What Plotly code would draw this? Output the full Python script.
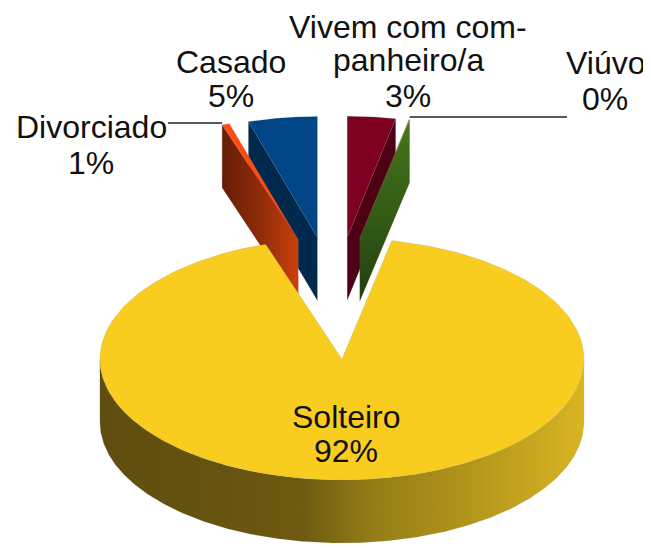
import numpy as np
import plotly.graph_objects as go

# Data, in clockwise drawing order starting at twelve o'clock
categories = ["Vivem com companheiro/a", "Viúvo", "Solteiro", "Divorciado", "Casado"]
values = [3.2, 0.1, 91.6, 0.5, 4.6]

# Labels as shown (line by line)
label_lines = {
    "Vivem com companheiro/a": ["Vivem com com-", "panheiro/a", "3%"],
    "Viúvo": ["Viúvo", "0%"],
    "Solteiro": ["Solteiro", "92%"],
    "Divorciado": ["Divorciado", "1%"],
    "Casado": ["Casado", "5%"],
}
label_pos = {
    "Vivem com companheiro/a": (408, [27, 60, 96]),
    "Viúvo": (605, [63, 99]),
    "Solteiro": (346, [417, 451]),
    "Divorciado": (91, [127, 163]),
    "Casado": (231, [62, 96]),
}

# Styles
top_color = {"Vivem com companheiro/a": "#7e0021", "Viúvo": "#4f7f1c", "Solteiro": "#f8cd20",
             "Divorciado": "#ff4a10", "Casado": "#004586"}
CX, CY, RX, RY, DEPTH, EXPLODE = 335, 298, 242, 121, 63, 0.505
FONT = "Liberation Sans"
FS = 32
PAGE_MARGIN = 8  # the page body offsets the figure by this much


def pt(cx, cy, th):
    return cx + RX * np.sin(th), cy - RY * np.cos(th)


# slice angles
fr = np.array(values) / sum(values)
edges = np.concatenate([[0], np.cumsum(fr)]) * 2 * np.pi
slices = {}
for i, c in enumerate(categories):
    a, b = edges[i], edges[i + 1]
    m = (a + b) / 2
    cx = CX + EXPLODE * RX * np.sin(m)
    cy = CY - EXPLODE * RY * np.cos(m)
    slices[c] = dict(a=a, b=b, cx=cx, cy=cy)

fig = go.Figure()


def add_poly(x, y, color=None, grad=None, line="rgba(120,120,120,0.14)"):
    kw = dict(fillcolor=color) if grad is None else dict(fillgradient=grad)
    fig.add_trace(go.Scatter(x=list(x), y=list(y), mode="lines", fill="toself",
                             line=dict(color=line, width=1), hoverinfo="skip",
                             showlegend=False, **kw))


def top_face(c):
    s = slices[c]
    th = np.linspace(s["a"], s["b"], 240)
    x, y = pt(s["cx"], s["cy"], th)
    add_poly(np.r_[s["cx"], x, s["cx"]], np.r_[s["cy"], y, s["cy"]], top_color[c])


def cut_face(c, angle, color=None, grad=None):
    s = slices[c]
    tx, ty = pt(s["cx"], s["cy"], angle)
    add_poly([s["cx"], tx, tx, s["cx"], s["cx"]],
             [s["cy"], ty, ty + DEPTH, s["cy"] + DEPTH, s["cy"]], color, grad)


# Back to front
cut_face("Casado", slices["Casado"]["a"], "#00294d")
top_face("Casado")
cut_face("Divorciado", slices["Divorciado"]["a"],
         grad=dict(type="horizontal", colorscale=[[0, "#651d06"], [0.5, "#8f2c09"], [1, "#cb400c"]]))
top_face("Divorciado")
cut_face("Vivem com companheiro/a", slices["Vivem com companheiro/a"]["b"], "#4e0015")
top_face("Vivem com companheiro/a")
cut_face("Viúvo", slices["Viúvo"]["b"],
         grad=dict(type="vertical", colorscale=[[0, "#243e10"], [0.45, "#335a14"], [1, "#46741a"]]))
top_face("Viúvo")

# Main slice: rim then top
s = slices["Solteiro"]
th = np.linspace(np.pi / 2, 3 * np.pi / 2, 400)
x, y = pt(s["cx"], s["cy"], th)
add_poly(np.r_[x, x[::-1], x[0]], np.r_[y, (y + DEPTH)[::-1], y[0]],
         grad=dict(type="horizontal", colorscale=[[0, "#5f4e10"], [0.25, "#66530f"], [0.42, "#6e5a11"],
                                                  [0.56, "#937c16"], [0.8, "#b89a1c"], [1, "#d9b423"]]))
top_face("Solteiro")

# Leader lines
for c, xa, ya, ang in [("Divorciado", 168, 123, slices["Divorciado"]["a"]),
                       ("Viúvo", 567, 117, slices["Viúvo"]["b"])]:
    tx, ty = pt(slices[c]["cx"], slices[c]["cy"], ang)
    fig.add_trace(go.Scatter(x=[xa, tx], y=[ya, ya], mode="lines", hoverinfo="skip", showlegend=False,
                             line=dict(color="#222222", width=1.5)))

# Labels
for c, lines in label_lines.items():
    lx, ys = label_pos[c]
    for t, ly in zip(lines, ys):
        fig.add_annotation(x=lx, y=ly, text=t, showarrow=False, xanchor="center", yanchor="middle",
                           font=dict(family=FONT, size=FS, color="#111111"))

fig.update_layout(
    width=651 - PAGE_MARGIN, height=548 - PAGE_MARGIN, margin=dict(l=0, r=0, t=0, b=0),
    paper_bgcolor="white", plot_bgcolor="white", showlegend=False,
    xaxis=dict(range=[PAGE_MARGIN, 651], visible=False, fixedrange=True),
    yaxis=dict(range=[548, PAGE_MARGIN], visible=False, fixedrange=True),
)
fig.write_html("out.html", config={"displayModeBar": False})
